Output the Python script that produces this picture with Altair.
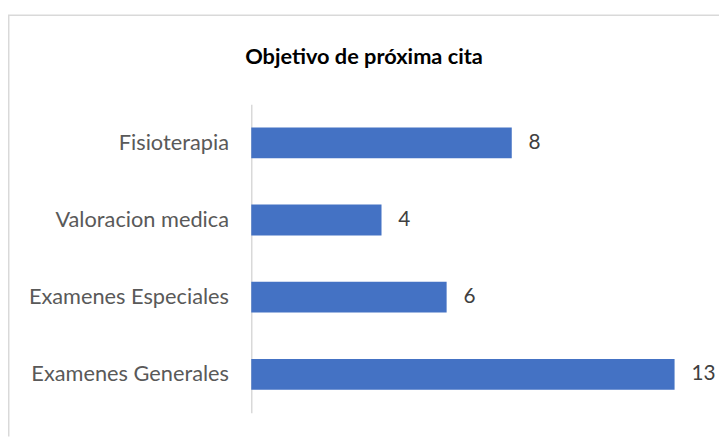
import altair as alt
import pandas as pd

categories = ["Fisioterapia", "Valoracion medica", "Examenes Especiales", "Examenes Generales"]
values = [8, 4, 6, 13]
title_text = "Objetivo de próxima cita"

df = pd.DataFrame({"cat": categories, "val": values})

W, H = 461, 312
PAD_L, PAD_T, PAD_R, PAD_B = 246, 95, 12, 24

y_enc = alt.Y("cat:N", sort=categories,
              scale=alt.Scale(paddingInner=0.6, paddingOuter=0.3),
              axis=alt.Axis(title=None, ticks=False, grid=False, domain=True,
                            domainColor="#d9d9d9", domainWidth=1.5,
                            labelFont="Lato", labelFontSize=22, labelColor="#595959",
                            labelPadding=23, labelLimit=400))
x_enc = alt.X("val:Q", scale=alt.Scale(domain=[0, 14], nice=False), axis=None)

bars = alt.Chart(df).mark_bar(color="#4472C4").encode(y=y_enc, x=x_enc)
labels = alt.Chart(df).mark_text(align="left", baseline="middle", dx=17,
                                 font="Lato", fontSize=21, color="#404040").encode(
    y=alt.Y("cat:N", sort=categories), x="val:Q", text="val:Q")

frame = pd.DataFrame({"a": [0]})
top_border = alt.Chart(frame).mark_rule(color="#d9d9d9", strokeWidth=1.5).encode(
    x=alt.value(-PAD_L), x2=alt.value(W + PAD_R), y=alt.value(-90))
left_border = alt.Chart(frame).mark_rule(color="#d9d9d9", strokeWidth=1.5).encode(
    x=alt.value(-PAD_L + 0.75), y=alt.value(-90), y2=alt.value(H + PAD_B))
title = alt.Chart(frame).mark_text(align="center", baseline="alphabetic", font="Lato",
                                   fontSize=22, fontWeight="bold", color="#000000").encode(
    x=alt.value(368 - 8 - PAD_L), y=alt.value(-41), text=alt.value(title_text))

chart = alt.layer(top_border, left_border, bars, labels, title).properties(
    width=W, height=H,
    autosize=alt.AutoSizeParams(type="none"),
    padding={"left": PAD_L, "top": PAD_T, "right": PAD_R, "bottom": PAD_B},
).configure(background="white").configure_view(stroke=None, strokeWidth=0)

chart.save("out.html", embed_options={"renderer": "svg", "actions": False})
